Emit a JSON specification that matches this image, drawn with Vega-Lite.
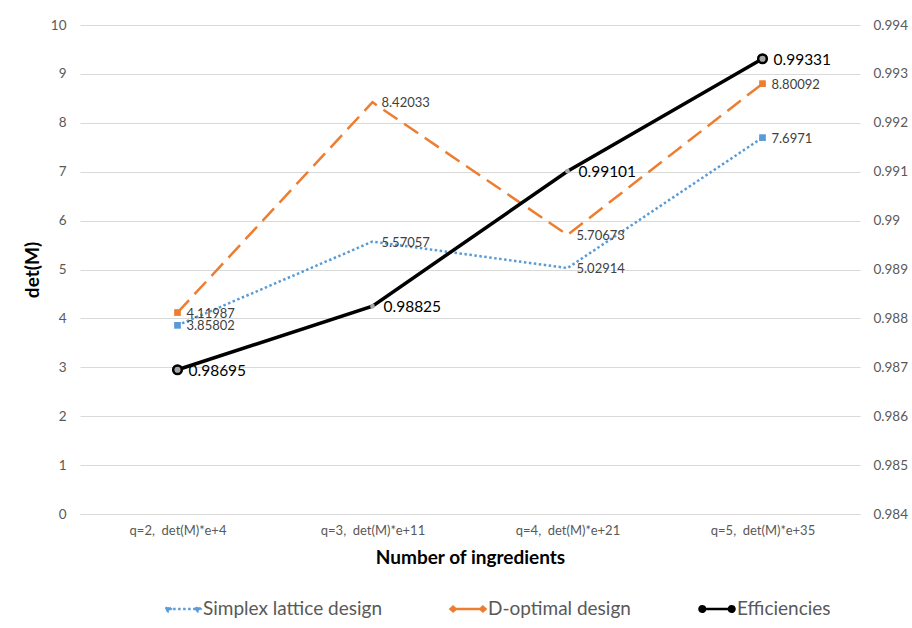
{
  "$schema": "https://vega.github.io/schema/vega-lite/v6.json",
  "width": 780,
  "height": 489,
  "autosize": {"type": "none"},
  "padding": {"left": 80, "top": 25, "right": 52, "bottom": 114},
  "background": "white",
  "config": {
    "font": "Lato",
    "view": {"stroke": null},
    "axis": {"labelColor": "#595959", "labelFontSize": 13.5, "titleColor": "#000000", "titleFontSize": 19, "titleFontWeight": "bold"}
  },
  "data": {
    "values": [
      {"q": "q=2,  det(M)*e+4", "series": "Simplex lattice design", "value": 3.85802},
      {"q": "q=3,  det(M)*e+11", "series": "Simplex lattice design", "value": 5.57057},
      {"q": "q=4,  det(M)*e+21", "series": "Simplex lattice design", "value": 5.02914},
      {"q": "q=5,  det(M)*e+35", "series": "Simplex lattice design", "value": 7.6971},
      {"q": "q=2,  det(M)*e+4", "series": "D-optimal design", "value": 4.11987},
      {"q": "q=3,  det(M)*e+11", "series": "D-optimal design", "value": 8.42033},
      {"q": "q=4,  det(M)*e+21", "series": "D-optimal design", "value": 5.70673},
      {"q": "q=5,  det(M)*e+35", "series": "D-optimal design", "value": 8.80092},
      {"q": "q=2,  det(M)*e+4", "series": "Efficiencies", "value": 0.98695},
      {"q": "q=3,  det(M)*e+11", "series": "Efficiencies", "value": 0.98825},
      {"q": "q=4,  det(M)*e+21", "series": "Efficiencies", "value": 0.99101},
      {"q": "q=5,  det(M)*e+35", "series": "Efficiencies", "value": 0.99331}
    ]
  },
  "encoding": {
    "x": {
      "field": "q",
      "type": "nominal",
      "scale": {"domain": ["q=2,  det(M)*e+4", "q=3,  det(M)*e+11", "q=4,  det(M)*e+21", "q=5,  det(M)*e+35"], "padding": 0.5},
      "axis": {"title": "Number of ingredients", "labelAngle": 0, "labelFontSize": 13, "labelExpr": "replace(datum.label, ', ', ',\u00a0 ')", "ticks": false, "domainColor": "#d9d9d9", "labelPadding": 10, "titlePadding": 11}
    }
  },
  "layer": [
    {
      "transform": [{"filter": "datum.series !== 'Efficiencies'"}],
      "encoding": {
        "y": {
          "field": "value",
          "type": "quantitative",
          "scale": {"domain": [0, 10], "nice": false},
          "axis": {"title": "det(M)", "orient": "left", "values": [0,1,2,3,4,5,6,7,8,9,10], "domain": false, "ticks": false, "grid": true, "gridColor": "#d9d9d9", "labelPadding": 14, "titlePadding": 8}
        }
      },
      "layer": [
        {
          "mark": {"type": "line", "strokeWidth": 2.5, "strokeCap": "butt"},
          "encoding": {
            "color": {
              "field": "series",
              "type": "nominal",
              "scale": {"domain": ["Simplex lattice design", "D-optimal design", "Efficiencies"], "range": ["#5B9BD5", "#ED7D31", "#000000"]},
              "legend": {
                "title": null,
                "orient": "none",
                "direction": "horizontal",
                "legendX": 84,
                "legendY": 565,
                "labelFontSize": 19,
                "labelLimit": 0,
                "labelColor": "#595959",
                "labelOffset": 1,
                "columnPadding": 63,
                "symbolSize": 1225,
                "symbolStrokeWidth": 2.5,
                "symbolType": "M-0.85,0H0.85M-1,0L-0.85,-0.13L-0.7,0L-0.85,0.13ZM0.7,0L0.85,-0.13L1,0L0.85,0.13Z",
                "encode": {
                  "symbols": {
                    "update": {
                      "fill": {"scale": "color", "field": "value"},
                      "shape": [
                        {"test": "datum.value === 'Efficiencies'", "value": "M-0.8,0H0.8M-1,0A0.16,0.16 0 1,0 -0.68,0A0.16,0.16 0 1,0 -1,0ZM0.68,0A0.16,0.16 0 1,0 1,0A0.16,0.16 0 1,0 0.68,0Z"},
                        {"value": "M-0.85,0H0.85M-1,0L-0.85,-0.13L-0.7,0L-0.85,0.13ZM0.7,0L0.85,-0.13L1,0L0.85,0.13Z"}
                      ],
                      "strokeDash": [
                        {"test": "datum.value === 'Simplex lattice design'", "value": [2.5, 2.5]},
                        {"value": [1, 0]}
                      ]
                    }
                  }
                }
              }
            },
            "strokeDash": {
              "field": "series",
              "type": "nominal",
              "scale": {"domain": ["Simplex lattice design", "D-optimal design"], "range": [[2.5, 2.5], [17, 8]]},
              "legend": null
            }
          }
        },
        {
          "transform": [{"filter": "datum.q === 'q=2,  det(M)*e+4' || datum.q === 'q=5,  det(M)*e+35'"}],
          "mark": {"type": "point", "shape": "square", "filled": true, "opacity": 1, "size": 45},
          "encoding": {
            "color": {"field": "series", "type": "nominal", "legend": null}
          }
        },
        {
          "mark": {"type": "text", "align": "left", "baseline": "middle", "dx": 9, "dy": 1, "fontSize": 13, "color": "#404040"},
          "encoding": {"text": {"field": "value", "type": "nominal"}}
        }
      ]
    },
    {
      "transform": [{"filter": "datum.series === 'Efficiencies'"}],
      "encoding": {
        "y": {
          "field": "value",
          "type": "quantitative",
          "scale": {"domain": [0.984, 0.994], "nice": false, "zero": false},
          "axis": {"title": null, "orient": "right", "values": [0.984,0.985,0.986,0.987,0.988,0.989,0.99,0.991,0.992,0.993,0.994], "format": ".3~f", "domain": false, "ticks": false, "grid": false, "labelPadding": 13}
        }
      },
      "layer": [
        {
          "mark": {"type": "line", "strokeWidth": 3.5},
          "encoding": {
            "color": {"field": "series", "type": "nominal"}
          }
        },
        {
          "transform": [{"filter": "datum.q === 'q=2,  det(M)*e+4' || datum.q === 'q=5,  det(M)*e+35'"}],
          "mark": {"type": "point", "shape": "circle", "filled": true, "fill": "#a6a6a6", "stroke": "#000000", "strokeWidth": 2.5, "opacity": 1, "size": 75}
        },
        {
          "transform": [{"filter": "datum.q === 'q=3,  det(M)*e+11' || datum.q === 'q=4,  det(M)*e+21'"}],
          "mark": {"type": "point", "shape": "circle", "filled": true, "fill": "#a6a6a6", "opacity": 1, "size": 22}
        },
        {
          "mark": {"type": "text", "align": "left", "baseline": "middle", "dx": 11, "dy": 1, "fontSize": 15.5, "color": "#000000"},
          "encoding": {"text": {"field": "value", "type": "nominal"}}
        }
      ]
    }
  ],
  "resolve": {"scale": {"y": "independent"}}
}
